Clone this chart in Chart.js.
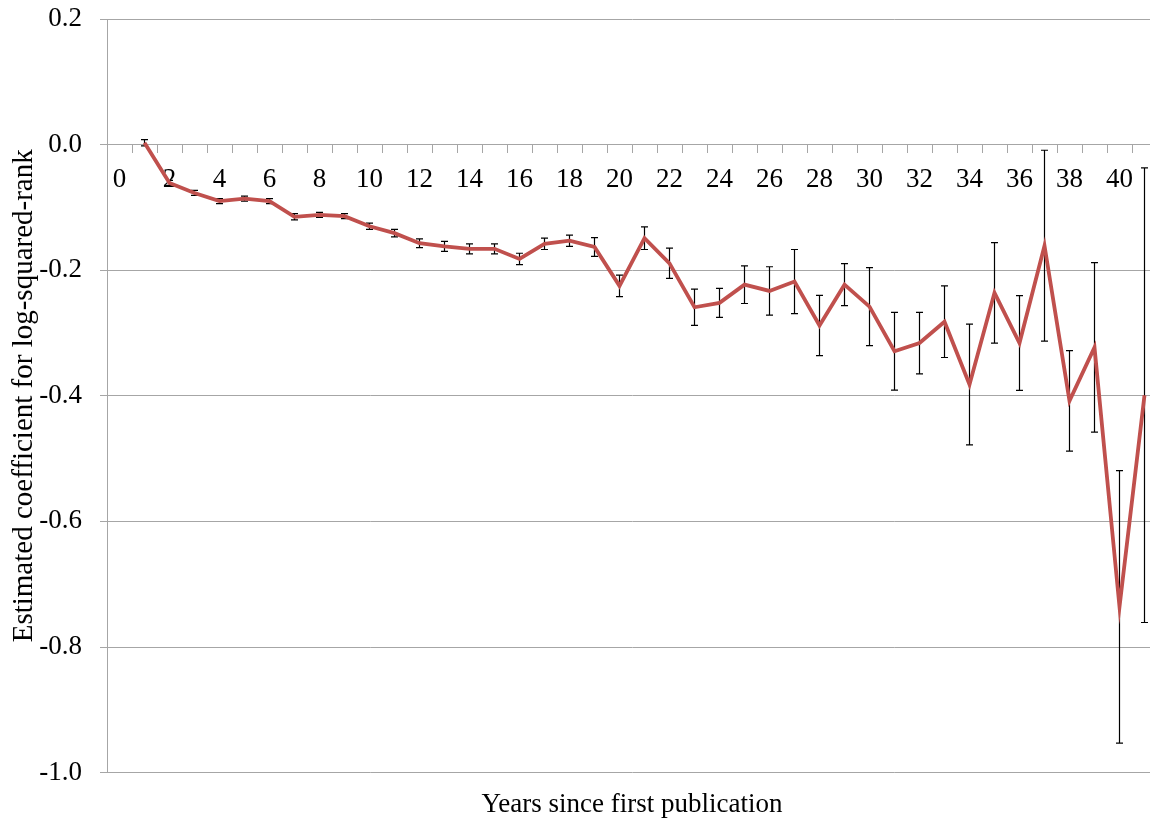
<!DOCTYPE html>
<html>
<head>
<meta charset="utf-8">
<title>Estimated coefficient by years since first publication</title>
<script src="https://cdn.jsdelivr.net/npm/chart.js@4"></script>
<style>
  html, body { margin: 0; padding: 0; background: #fff; overflow: hidden; }
  #wrap { position: relative; width: 1157px; height: 823px; }
</style>
</head>
<body>
<div id="wrap"><canvas id="chart"></canvas></div>
<script>
// Years since first publication (category axis)
const years = [0,1,2,3,4,5,6,7,8,9,10,11,12,13,14,15,16,17,18,19,20,
               21,22,23,24,25,26,27,28,29,30,31,32,33,34,35,36,37,38,39,40,41];

// Estimated coefficient for log-squared-rank, per year
const coefficients = [null, 0.003, -0.061, -0.077, -0.090, -0.086, -0.090, -0.115, -0.112, -0.114,
  -0.130, -0.141, -0.157, -0.162, -0.166, -0.166, -0.182, -0.158, -0.153, -0.163,
  -0.225, -0.149, -0.189, -0.259, -0.252, -0.223, -0.233, -0.218, -0.288, -0.223,
  -0.258, -0.329, -0.316, -0.282, -0.382, -0.236, -0.316, -0.161, -0.408, -0.323,
  -0.736, -0.399];

// Half-width of the error bar around each coefficient
const errors = [null, 0.005, 0.004, 0.004, 0.004, 0.004, 0.004, 0.005, 0.004, 0.004,
  0.005, 0.006, 0.007, 0.008, 0.008, 0.008, 0.009, 0.009, 0.009, 0.015,
  0.017, 0.018, 0.024, 0.029, 0.023, 0.030, 0.0385, 0.051, 0.048, 0.0335,
  0.062, 0.062, 0.049, 0.057, 0.096, 0.080, 0.0755, 0.152, 0.080, 0.135,
  0.217, 0.362];

// Value axis ticks
const yTicks = [-1.0, -0.8, -0.6, -0.4, -0.2, 0.0, 0.2];

const SERIF = "'Liberation Serif', 'Times New Roman', Times, serif";
const GRID = '#a6a6a6';

// Draws vertical error bars with caps under the line
const errorBars = {
  id: 'errorBars',
  beforeDatasetsDraw(chart) {
    const x = chart.scales.x, y = chart.scales.y, ctx = chart.ctx;
    const cap = 3.5;
    ctx.save();
    ctx.strokeStyle = '#000';
    ctx.lineWidth = 1.2;
    years.forEach((yr, i) => {
      const v = coefficients[i], e = errors[i];
      if (v === null || e === null) return;
      const px = x.getPixelForValue(i);
      const top = y.getPixelForValue(v + e);
      const bot = y.getPixelForValue(v - e);
      ctx.beginPath();
      ctx.moveTo(px, top); ctx.lineTo(px, bot);
      ctx.moveTo(px - cap, top); ctx.lineTo(px + cap, top);
      ctx.moveTo(px - cap, bot); ctx.lineTo(px + cap, bot);
      ctx.stroke();
    });
    ctx.restore();
  }
};

new Chart(document.getElementById('chart'), {
  type: 'line',
  data: {
    labels: years.map(String),
    datasets: [{
      data: coefficients,
      borderColor: '#C0504D',
      borderWidth: 3.8,
      pointRadius: 0,
      pointHoverRadius: 0,
      tension: 0,
      spanGaps: false
    }]
  },
  options: {
    responsive: true,
    maintainAspectRatio: false,
    animation: false,
    events: [],
    layout: { padding: { top: 0, right: 0, left: 0, bottom: 0 } },
    plugins: {
      legend: { display: false },
      tooltip: { enabled: false },
      title: {
        display: true,
        position: 'bottom',
        fullSize: false,
        text: 'Years since first publication',
        color: '#000',
        font: { family: SERIF, size: 27, weight: 'normal' },
        padding: { top: 16, bottom: 2 }
      }
    },
    scales: {
      x: {
        type: 'category',
        position: { y: 0 },
        offset: true,
        grid: {
          drawOnChartArea: false,
          offset: true,
          tickLength: 8,
          color: GRID,
          lineWidth: 1
        },
        border: { display: true, color: GRID, width: 1 },
        ticks: {
          autoSkip: false,
          maxRotation: 0,
          minRotation: 0,
          padding: 11,
          color: '#000',
          font: { family: SERIF, size: 27 },
          callback: (val, idx) => (years[idx] % 2 === 0 ? String(years[idx]) : '')
        }
      },
      y: {
        position: 'left',
        min: yTicks[0],
        max: yTicks[yTicks.length - 1],
        afterBuildTicks: (scale) => { scale.ticks = yTicks.map(v => ({ value: v })); },
        afterFit: (scale) => {
          scale.width = 107;
          scale.paddingTop = 19;
          scale.paddingBottom = 0;
        },
        grid: { color: GRID, lineWidth: 1, tickLength: 7 },
        border: { display: true, color: GRID, width: 1 },
        ticks: {
          padding: 18,
          color: '#000',
          font: { family: SERIF, size: 27 },
          callback: (v) => Number(v).toFixed(1)
        },
        title: {
          display: true,
          text: 'Estimated coefficient for log-squared-rank',
          color: '#000',
          font: { family: SERIF, size: 29 },
          padding: { top: 7, bottom: 0 }
        }
      }
    }
  },
  plugins: [errorBars]
});
</script>
</body>
</html>
